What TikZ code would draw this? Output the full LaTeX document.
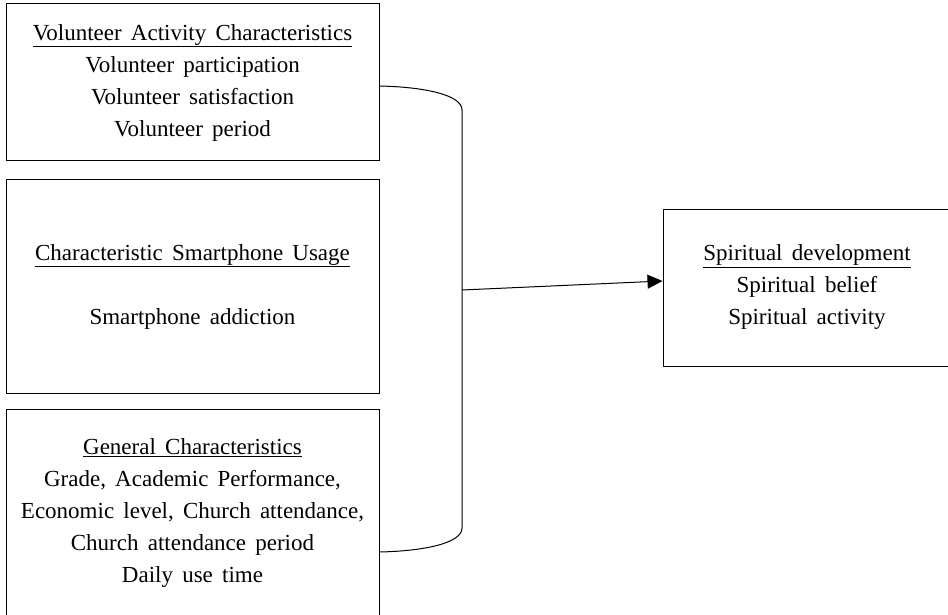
\documentclass[tikz,border=0pt]{standalone}
\usepackage{fontspec}
\setmainfont{Liberation Serif}[WordSpace=1.6]
\usetikzlibrary{arrows.meta,calc}
\begin{document}
\begin{tikzpicture}[x=1pt,y=-1pt,
  box/.style={draw, line width=1pt, inner sep=0pt, align=center, font=\fontsize{23}{32}\selectfont},
  link/.style={line width=1pt}]
\useasboundingbox (0,0) rectangle (948,615);
\clip (0,0) rectangle (948,615);
\fill[white] (0,0) rectangle (948,615);
\node[box, minimum width=373pt, minimum height=157pt] (v) at (192.5,82.5)
  {\underline{Volunteer Activity Characteristics}\\Volunteer participation\\Volunteer satisfaction\\Volunteer period};
\node[box, minimum width=373pt, minimum height=213pt] (s) at (192.5,286.5)
  {\underline{Characteristic Smartphone Usage}\\[32pt]Smartphone addiction};
\node[box, minimum width=373pt, minimum height=208pt] (g) at (192.5,513)
  {\underline{General Characteristics}\\Grade, Academic Performance,\\Economic level, Church attendance,\\Church attendance period\\Daily use time};
\node[box, minimum width=288pt, minimum height=157pt] (r) at (807,287.5)
  {\underline{Spiritual development}\\Spiritual belief\\Spiritual activity};
\coordinate (bs) at ($(v.east)+(0,3.5)$);
\coordinate (be) at ($(g.east)+(0,39)$);
\coordinate (bt) at (462,110);
\coordinate (bb) at (462,528);
\coordinate (am) at (462,290);
\draw[link] (bs) .. controls (425,87) and (462,95) .. (bt) -- (bb)
  .. controls (462,543) and (425,551) .. (be);
\draw[link, -{Triangle[length=15pt,width=14pt]}] (am) -- (r.west |- 0,281);
\end{tikzpicture}
\end{document}
